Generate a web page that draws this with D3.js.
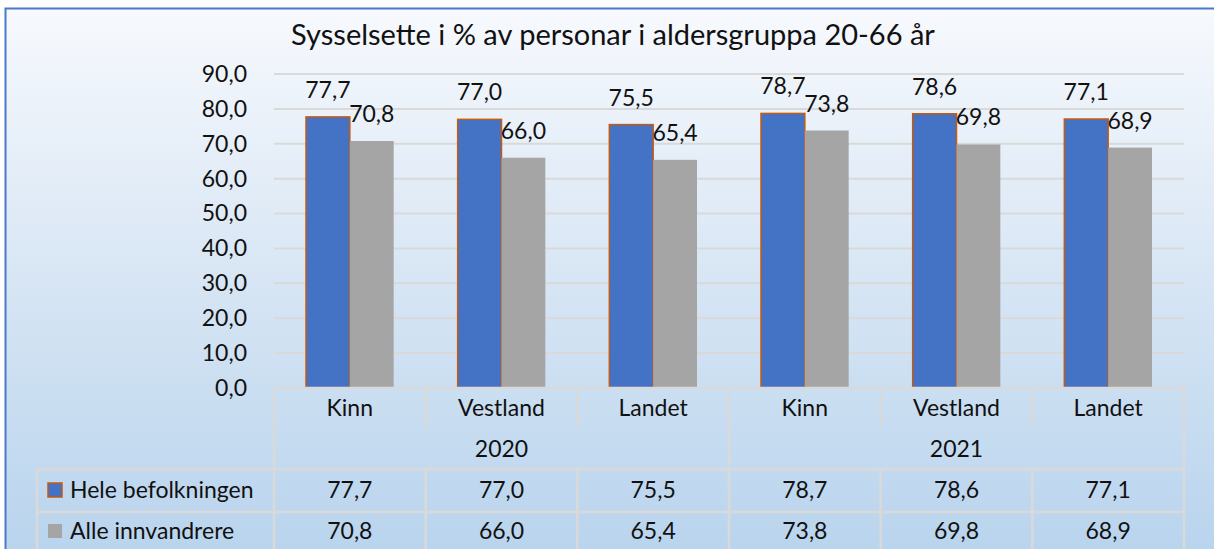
<!DOCTYPE html>
<html lang="nn">
<head>
<meta charset="UTF-8">
<title>Sysselsette i % av personar i aldersgruppa 20-66 år</title>
<script src="https://d3js.org/d3.v7.min.js"></script>
<style>
  body { margin: 0; background: #fff; }
  svg text { font-family: Lato, "Open Sans", sans-serif; fill: #111; }
</style>
</head>
<body>
<script>
// data
var years = ["2020", "2021"];
var regions = ["Kinn", "Vestland", "Landet"];
var categories = ["Kinn", "Vestland", "Landet", "Kinn", "Vestland", "Landet"];
var seriesNames = ["Hele befolkningen", "Alle innvandrere"];
var hele = [77.7, 77.0, 75.5, 78.7, 78.6, 77.1];
var innv = [70.8, 66.0, 65.4, 73.8, 69.8, 68.9];
var yTicks = [0, 10, 20, 30, 40, 50, 60, 70, 80, 90];

var width = 1214, height = 549;
var colors = ["#4472c4", "#a5a5a5"];
var fs = 23;
var fmt = function(v) { return d3.format(".1f")(v).replace(".", ","); };

var svg = d3.select("body").append("svg")
    .attr("width", width).attr("height", height);

var grad = svg.append("defs").append("linearGradient")
    .attr("id", "bg").attr("x1", 0).attr("y1", 0).attr("x2", 0).attr("y2", 1);
grad.append("stop").attr("offset", "0%").attr("stop-color", "#f7f9fd");
grad.append("stop").attr("offset", "55%").attr("stop-color", "#d3e3f3");
grad.append("stop").attr("offset", "100%").attr("stop-color", "#b7d3ed");

svg.append("rect").attr("x", 0).attr("y", 0).attr("width", width).attr("height", height).attr("fill", "#fff");
svg.append("rect")
    .attr("x", 5.5).attr("y", 8.5).attr("width", width + 10).attr("height", height + 10)
    .attr("fill", "url(#bg)").attr("stroke", "#4a78cc").attr("stroke-width", 2);

// title
svg.append("text")
    .attr("x", 613).attr("y", 45)
    .attr("text-anchor", "middle")
    .attr("font-size", 29)
    .text("Sysselsette i % av personar i aldersgruppa 20-66 år");

var plotL = 274, plotR = 1184, plotT = 74, plotB = 388;

var x = d3.scaleBand().domain(d3.range(categories.length)).range([plotL, plotR]);
var y = d3.scaleLinear().domain([0, 90]).range([plotB, plotT]);
var inner = d3.scaleBand().domain([0, 1]).range([0, x.bandwidth()]).paddingOuter(0.73).paddingInner(0);

var lineColor = "#d9d9d9";

// gridlines
svg.append("g")
    .selectAll("line").data(yTicks).join("line")
    .attr("x1", plotL).attr("x2", plotR)
    .attr("y1", d => y(d)).attr("y2", d => y(d))
    .attr("stroke", lineColor).attr("stroke-width", 2);

// y axis labels
var yAxis = d3.axisLeft(y).tickValues(yTicks).tickFormat(fmt).tickSize(0).tickPadding(27);
var ya = svg.append("g").attr("transform", "translate(" + plotL + ",0)").call(yAxis);
ya.select(".domain").remove();
ya.selectAll("text").attr("font-size", fs).attr("fill", "#111")
    .style("font-family", "Lato, 'Open Sans', sans-serif");

// bars
var series = [hele, innv];
series.forEach(function(vals, s) {
  var g = svg.append("g");
  g.selectAll("rect").data(vals).join("rect")
    .attr("x", (d, i) => x(i) + inner(s))
    .attr("y", d => y(d))
    .attr("width", inner.bandwidth())
    .attr("height", d => plotB - y(d))
    .attr("fill", colors[s])
    .attr("stroke", s === 0 ? "#c55a11" : "none")
    .attr("stroke-width", 1.5);
  g.selectAll("text").data(vals).join("text")
    .attr("x", (d, i) => x(i) + inner(s) + inner.bandwidth() / 2)
    .attr("y", d => y(d) - 19)
    .attr("text-anchor", "middle")
    .attr("font-size", fs)
    .text(fmt);
});

// data table
var rowCat = [388, 428], rowYear = [428, 469], rowS1 = [469, 512], rowS2 = [512, 556];
var tbl = svg.append("g").attr("stroke", lineColor).attr("stroke-width", 2.5);
tbl.append("line").attr("x1", plotL).attr("x2", plotR).attr("y1", plotB).attr("y2", plotB);
tbl.append("line").attr("x1", 37).attr("x2", plotR).attr("y1", rowS1[0]).attr("y2", rowS1[0]);
tbl.append("line").attr("x1", 37).attr("x2", plotR).attr("y1", rowS2[0]).attr("y2", rowS2[0]);
var edges = d3.range(categories.length).map(i => x(i)).concat([plotR]);
tbl.selectAll(".vc").data(edges).join("line")
    .attr("x1", d => d).attr("x2", d => d)
    .attr("y1", rowCat[0]).attr("y2", rowCat[1]);
var yearEdges = [plotL, x(regions.length), plotR];
tbl.selectAll(".vy").data(yearEdges).join("line")
    .attr("x1", d => d).attr("x2", d => d)
    .attr("y1", rowYear[0]).attr("y2", rowYear[1]);
tbl.selectAll(".vv").data(edges).join("line")
    .attr("x1", d => d).attr("x2", d => d)
    .attr("y1", rowS1[0]).attr("y2", rowS2[1]);
tbl.append("line").attr("x1", 37).attr("x2", 37).attr("y1", rowS1[0]).attr("y2", rowS2[1]);

// category labels
svg.append("g").selectAll("text").data(categories).join("text")
    .attr("x", (d, i) => x(i) + x.bandwidth() / 2)
    .attr("y", 416)
    .attr("text-anchor", "middle").attr("font-size", fs)
    .text(d => d);

// year labels
svg.append("g").selectAll("text").data(years).join("text")
    .attr("x", (d, i) => (yearEdges[i] + yearEdges[i + 1]) / 2)
    .attr("y", 457)
    .attr("text-anchor", "middle").attr("font-size", fs)
    .text(d => d);

// value rows with legend keys
var rowY = [498, 539];
series.forEach(function(vals, s) {
  svg.append("g").selectAll("text").data(vals).join("text")
    .attr("x", (d, i) => x(i) + x.bandwidth() / 2)
    .attr("y", rowY[s])
    .attr("text-anchor", "middle").attr("font-size", fs)
    .text(fmt);
  svg.append("rect")
    .attr("x", 48).attr("y", rowY[s] - 15)
    .attr("width", 14).attr("height", 14)
    .attr("fill", colors[s])
    .attr("stroke", s === 0 ? "#c55a11" : "none")
    .attr("stroke-width", 1.5);
  svg.append("text")
    .attr("x", 70).attr("y", rowY[s])
    .attr("font-size", fs)
    .text(seriesNames[s]);
});
</script>
</body>
</html>
